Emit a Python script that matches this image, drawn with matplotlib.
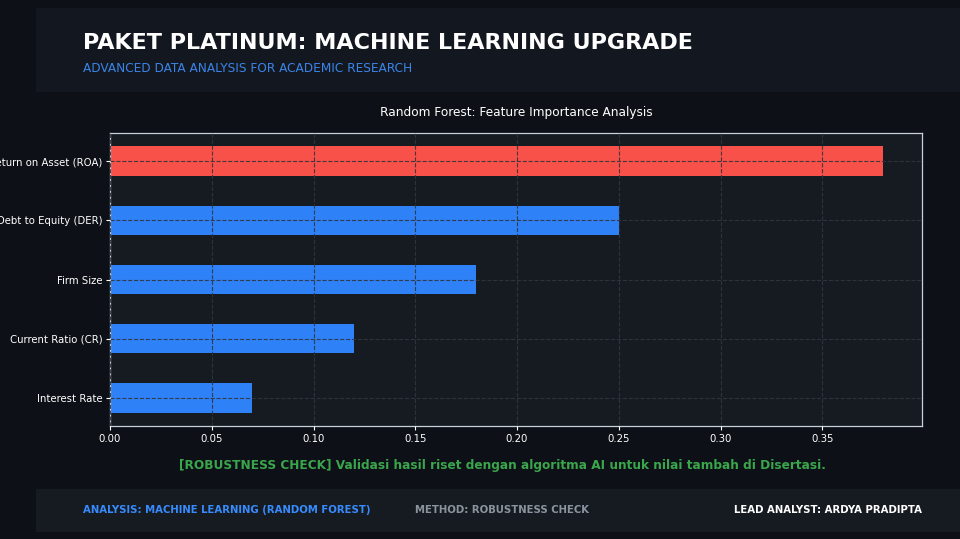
import matplotlib
matplotlib.use("Agg")
import matplotlib.pyplot as plt
from matplotlib.patches import Rectangle

features = ["Interest Rate", "Current Ratio (CR)", "Firm Size", "Debt to Equity (DER)", "Return on Asset (ROA)"]
importance = [0.07, 0.12, 0.18, 0.25, 0.38]
bar_colors = ["#2f81f7", "#2f81f7", "#2f81f7", "#2f81f7", "#f85149"]

W, H = 960, 539
fig = plt.figure(figsize=(9.6, 5.39), dpi=100, facecolor="#0d1117")

def fx(px):
    return px / W

def fy(py):
    return 1 - py / H

# header band
fig.patches.append(Rectangle((fx(36), fy(92)), fx(960 - 36), (92 - 8) / H,
                             transform=fig.transFigure, facecolor="#131820", edgecolor="none", zorder=0))
# footer band
fig.patches.append(Rectangle((fx(36), fy(532)), fx(960 - 36), (532 - 489) / H,
                             transform=fig.transFigure, facecolor="#161b22", edgecolor="none", zorder=0))

fig.text(fx(83), fy(43), "PAKET PLATINUM: MACHINE LEARNING UPGRADE", color="white",
         fontsize=16, fontweight="bold", va="center", ha="left")
fig.text(fx(83), fy(69), "ADVANCED DATA ANALYSIS FOR ACADEMIC RESEARCH", color="#3a84e8",
         fontsize=8.7, va="center", ha="left")

ax = fig.add_axes([fx(110), fy(426), fx(922 - 110), (426 - 133) / H])
ax.set_facecolor("#161b22")
ax.barh(features, importance, height=0.5, color=bar_colors, zorder=2)
ax.set_title("Random Forest: Feature Importance Analysis", color="white", fontsize=8.7, pad=12)
ax.grid(True, color="#30363d", linestyle="--", linewidth=0.8, alpha=0.9, zorder=3)
ax.set_axisbelow(False)
for s in ax.spines.values():
    s.set_color("#c9d1d9")
    s.set_linewidth(0.9)
ax.tick_params(colors="white", labelsize=7.3, length=3, pad=2.5)

fig.text(fx(502), fy(465), "[ROBUSTNESS CHECK] Validasi hasil riset dengan algoritma AI untuk nilai tambah di Disertasi.",
         color="#3aa64c", fontsize=8.7, fontweight="bold", ha="center", va="center")

fig.text(fx(83), fy(510), "ANALYSIS: MACHINE LEARNING (RANDOM FOREST)", color="#388bfd",
         fontsize=7.3, fontweight="bold", ha="left", va="center")
fig.text(fx(415), fy(510), "METHOD: ROBUSTNESS CHECK", color="#8b949e",
         fontsize=7.3, fontweight="bold", ha="left", va="center")
fig.text(fx(922), fy(510), "LEAD ANALYST: ARDYA PRADIPTA", color="white",
         fontsize=7.3, fontweight="bold", ha="right", va="center")

fig.savefig("out.png", dpi=100, facecolor=fig.get_facecolor())
